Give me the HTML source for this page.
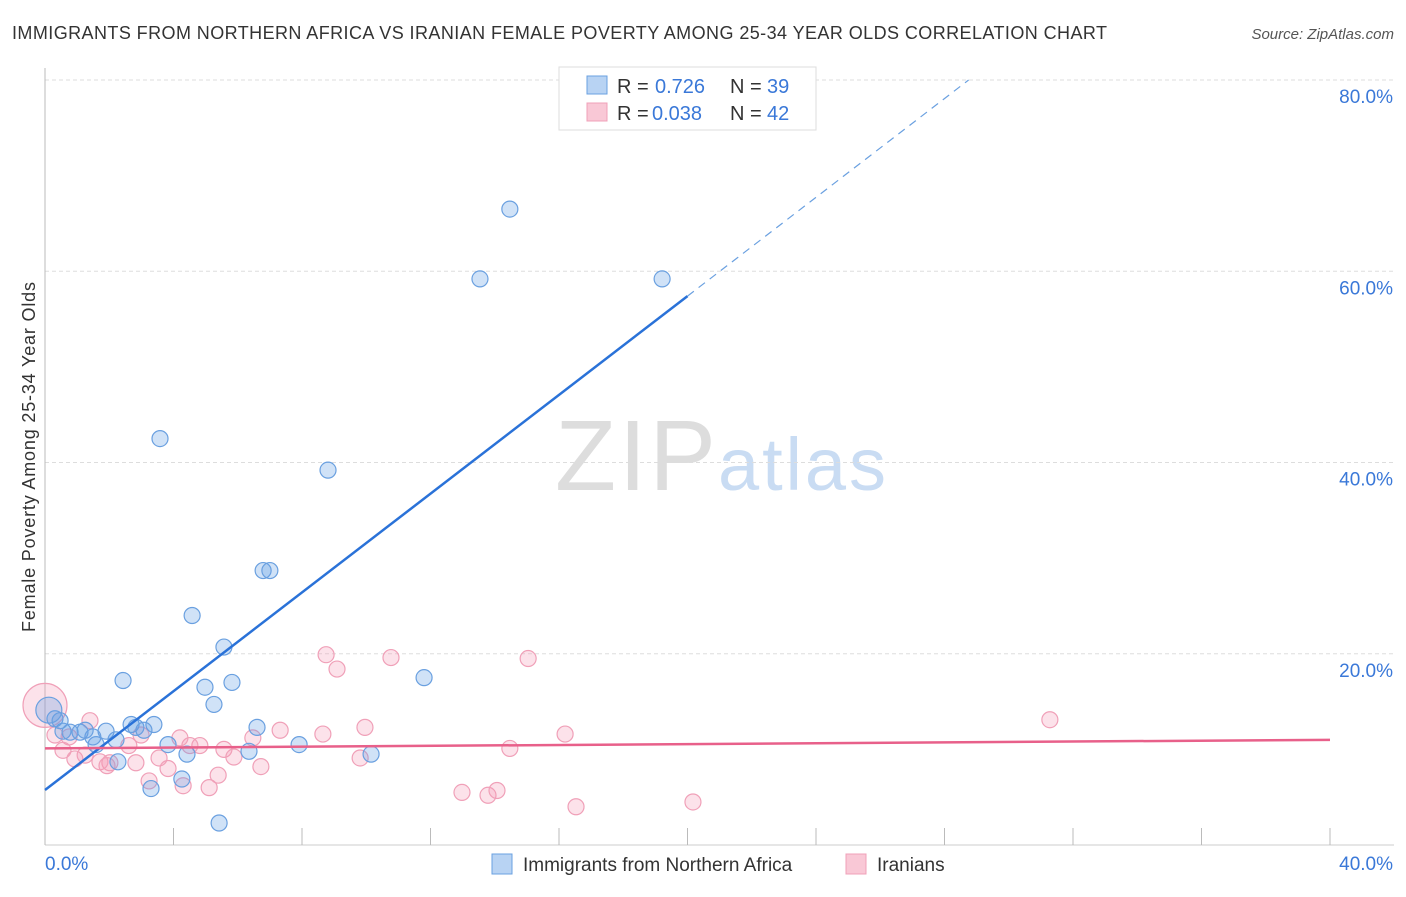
<!DOCTYPE html>
<html><head><meta charset="utf-8"><style>
body{margin:0;background:#fff;font-family:"Liberation Sans",sans-serif;}
svg text{font-family:"Liberation Sans",sans-serif;}
</style></head><body>
<svg width="1406" height="892" id="c">
<text x="12" y="39" font-size="18" fill="#333" textLength="1095">IMMIGRANTS FROM NORTHERN AFRICA VS IRANIAN FEMALE POVERTY AMONG 25-34 YEAR OLDS CORRELATION CHART</text>
<text x="1394" y="39" font-size="15" fill="#555" font-style="italic" text-anchor="end">Source: ZipAtlas.com</text>
<text x="35" y="457" font-size="18" fill="#333" text-anchor="middle" textLength="350" transform="rotate(-90 35 457)">Female Poverty Among 25-34 Year Olds</text>
<text x="716" y="490" font-size="100" fill="#ddd" text-anchor="end" font-family="Liberation Serif" textLength="161">ZIP</text>
<text x="718" y="490" font-size="74" fill="#c9dcf3" textLength="168">atlas</text>
<g id="grid"></g><g id="pts"></g><g id="lines"></g>
<g>
<rect x="559" y="67" width="257" height="63" fill="#fff" stroke="#ddd"/>
<rect x="587" y="76" width="20" height="18" fill="#b8d3f3" stroke="#6aa0e0"/>
<text x="617" y="93" font-size="20" fill="#333">R =</text><text x="655" y="93" font-size="20" fill="#3a78d8">0.726</text>
<text x="730" y="93" font-size="20" fill="#333">N =</text><text x="767" y="93" font-size="20" fill="#3a78d8">39</text>
<rect x="587" y="103" width="20" height="18" fill="#f9c8d6" stroke="#f0a0b8"/>
<text x="617" y="120" font-size="20" fill="#333">R =</text><text x="652" y="120" font-size="20" fill="#3a78d8">0.038</text>
<text x="730" y="120" font-size="20" fill="#333">N =</text><text x="767" y="120" font-size="20" fill="#3a78d8">42</text>
</g>
<g>
<rect x="492" y="854" width="20" height="20" fill="#b8d3f3" stroke="#6aa0e0"/>
<text x="523" y="871" font-size="19" fill="#333">Immigrants from Northern Africa</text>
<rect x="846" y="854" width="20" height="20" fill="#f9c8d6" stroke="#f0a0b8"/>
<text x="877" y="871" font-size="19" fill="#333">Iranians</text>
</g>
</svg>
<script>
const yTicks=[20,40,60,80];
const xTickLabels=["0.0%","40.0%"];
const blueX=[14.47,13.54,19.21,3.58,8.81,6.79,7.00,4.58,5.57,2.43,4.98,5.82,11.80,5.26,6.60,2.68,3.39,2.83,3.08,3.83,4.42,6.35,7.91,10.15,2.21,1.59,0.56,0.78,0.31,0.47,1.90,1.09,1.49,2.27,3.30,4.26,5.42,0.12,1.25];
const blueY=[66.5,59.2,59.2,42.5,39.2,28.7,28.7,24.0,20.7,17.2,16.5,17.0,17.5,14.7,12.3,12.6,12.6,12.3,12.0,10.5,9.5,9.8,10.5,9.5,11.0,10.5,11.9,11.8,13.2,13.0,11.9,11.8,11.3,8.7,5.9,6.9,2.3,14.1,12.0];
const pinkX=[31.28,8.75,9.09,10.77,15.04,16.19,14.47,8.65,9.96,7.32,6.47,5.57,4.82,4.51,4.20,3.55,3.83,3.24,4.30,5.11,5.39,5.88,6.72,9.81,2.83,2.02,1.71,1.93,0.75,0.56,0.93,1.40,2.61,2.99,12.98,13.79,14.07,16.53,20.17,0.31,0,1.25];
const pinkY=[13.1,19.9,18.4,19.6,19.5,11.6,10.1,11.6,12.3,12.0,11.2,10.0,10.4,10.4,11.2,9.1,8.0,6.7,6.2,6.0,7.3,9.2,8.2,9.1,8.6,8.6,8.7,8.3,11.3,9.9,9.0,13.0,10.4,11.5,5.5,5.2,5.7,4.0,4.5,11.5,14.6,9.4];
const blueFit=[5.75,57.4];
const pinkFit=[10.1,11.0];
const X=v=>45+v*32.125, Y=v=>845-v*9.5625;
const NS="http://www.w3.org/2000/svg";
function mk(t,a,p){const e=document.createElementNS(NS,t);for(const k in a)e.setAttribute(k,a[k]);p.appendChild(e);return e;}
const g=document.getElementById('grid');
yTicks.forEach(v=>{
 const l=mk('line',{x1:45,x2:1394,y1:Y(v),y2:Y(v),stroke:'#ddd','stroke-dasharray':'4,3'},g);
 
 
 const t=mk('text',{x:1393,y:Y(v)+23,'font-size':19,fill:'#3a78d8','text-anchor':'end'},g);t.textContent=v.toFixed(1)+'%';
 
 
});
mk('line',{x1:45,x2:45,y1:68,y2:845,stroke:'#bbb'},g);
mk('line',{x1:45,x2:1394,y1:845,y2:845,stroke:'#ccc'},g);
for(let i=0;i<=10;i++){const tk=mk('line',{x1:X(i*4),x2:X(i*4),y1:828,y2:845,stroke:'#bbb'},g);
 
 }
const t0=mk('text',{x:45,y:870,'font-size':19,fill:'#3a78d8'},g);t0.textContent=xTickLabels[0];


const t1=mk('text',{x:1393,y:870,'font-size':19,fill:'#3a78d8','text-anchor':'end'},g);t1.textContent=xTickLabels[1];


const p=document.getElementById('pts');
pinkX.forEach((x,i)=>{const c=mk('circle',{cx:X(x),cy:Y(pinkY[i]),r:(x===0?22:8),fill:'rgba(245,150,180,0.28)',stroke:'#f0a0b8','stroke-width':1.2},p);
 
 });
blueX.forEach((x,i)=>{const c=mk('circle',{cx:X(x),cy:Y(blueY[i]),r:(i===37?13:8),fill:'rgba(100,160,230,0.3)',stroke:'#6aa0e0','stroke-width':1.2},p);
 
 });
const L=document.getElementById('lines');
const slope=(blueFit[1]-blueFit[0])/20;
const bl=mk('line',{x1:X(0),y1:Y(blueFit[0]),x2:X(20),y2:Y(blueFit[1]),stroke:'#2a72d8','stroke-width':2.5},L);


const xe=(80-blueFit[0])/slope;
const bd=mk('line',{x1:X(20),y1:Y(blueFit[1]),x2:X(xe),y2:Y(80),stroke:'#6aa0e0','stroke-width':1.2,'stroke-dasharray':'8,6'},L);


const pl=mk('line',{x1:X(0),y1:Y(pinkFit[0]),x2:X(40),y2:Y(pinkFit[1]),stroke:'#e8608a','stroke-width':2.5},L);


</script>
</body></html>
